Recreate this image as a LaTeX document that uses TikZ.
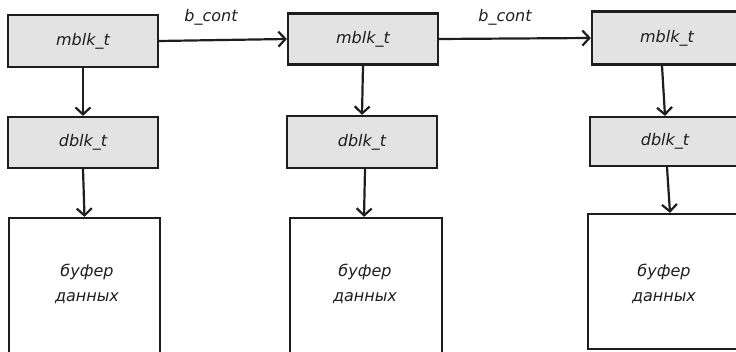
\documentclass[tikz,border=0pt]{standalone}
\usepackage{fontspec}
\setmainfont{DejaVu Sans}
\usetikzlibrary{arrows.meta}

\definecolor{boxgray}{HTML}{E3E3E3}
\definecolor{ink}{HTML}{1E1E1E}

\tikzset{
  blockbox/.style={draw=ink, line width=2.2pt, fill=boxgray, rectangle,
    minimum width=150pt, minimum height=51pt, inner sep=0pt,
    font=\fontsize{16}{18}\selectfont\itshape, text=ink},
  bufbox/.style={draw=ink, line width=2.2pt, fill=white, rectangle,
    minimum width=151pt, inner sep=0pt},
  buftext/.style={align=center, font=\fontsize{16}{25}\selectfont\itshape, text=ink},
  edgelabel/.style={font=\fontsize{16}{18}\selectfont\itshape, text=ink},
  arr/.style={draw=ink, line width=2.2pt,
    -{Straight Barb[length=7pt,width=15pt,line width=2.2pt]}}
}

\begin{document}
\begin{tikzpicture}[x=1pt,y=-1pt]
  \path[use as bounding box] (0,0) rectangle (736,352);
  \clip (0,0) rectangle (736,352);

  % message blocks
  \node[blockbox, minimum height=52pt] (m1) at (83,41) {mblk\_t};
  \node[blockbox] (m2) at (363,39) {mblk\_t};
  \node[blockbox, minimum height=53pt] (m3) at (667,38) {mblk\_t};

  % data blocks
  \node[blockbox] (d1) at (83,142.5) {dblk\_t};
  \node[blockbox, minimum height=52pt] (d2) at (362,142) {dblk\_t};
  \node[blockbox, minimum height=49pt] (d3) at (665,141.5) {dblk\_t};

  % data buffers
  \node[bufbox, minimum height=147pt] (b1) at (84.5,291.5) {};
  \node[bufbox, minimum height=147pt, minimum width=152pt] (b2) at (366,291.5) {};
  \node[bufbox, minimum height=135pt, minimum width=154pt] (b3) at (665,281.5) {};
  \node[buftext] (bt1) at (87,284) {буфер\\данных};
  \node[buftext] (bt2) at (365,284) {буфер\\данных};
  \node[buftext] (bt3) at (664,284) {буфер\\данных};

  % b_cont chain
  \draw[arr] (m1.east) -- (m2.west);
  \draw[arr] (m2.east) -- (m3.west);
  \node[edgelabel] (l1) at (211,17) {b\_cont};
  \node[edgelabel] (l2) at (505,17) {b\_cont};

  % block -> data block -> buffer
  \draw[arr] (m1.south) -- (d1.north);
  \draw[arr] (d1.south) -- (b1.north);
  \draw[arr] (m2.south) -- (d2.north);
  \draw[arr] ([xshift=3pt]d2.south) -- ([xshift=-2pt]b2.north);
  \draw[arr] ([xshift=-5pt]m3.south) -- (d3.north);
  \draw[arr] ([xshift=2pt]d3.south) -- ([xshift=5pt]b3.north);
\end{tikzpicture}
\end{document}
